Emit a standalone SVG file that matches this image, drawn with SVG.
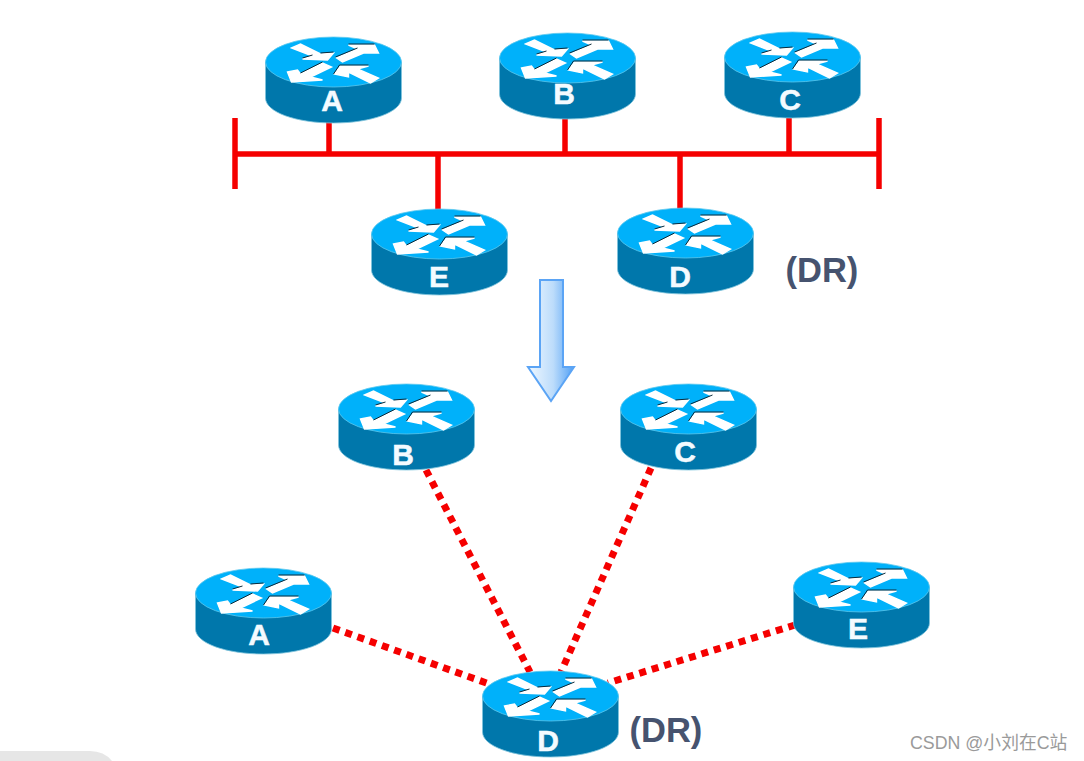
<svg xmlns="http://www.w3.org/2000/svg" width="1084" height="761" viewBox="0 0 1084 761">
<style>
.side{fill:#0077ab;stroke:#7fc4dc;stroke-width:.8}
.top{fill:#00b1fa;stroke:#5cc8ee;stroke-width:.8}
.ar{fill:#fff;stroke:#fff;stroke-width:1.4;stroke-linejoin:miter}
.sh{fill:none;stroke:#0c2a3a;stroke-width:1}
.lb{font:bold 30px "Liberation Sans",Arial,sans-serif;fill:#f4fbff;stroke:#f4fbff;stroke-width:.5;text-anchor:middle}
.dr{font:bold 34.5px "Liberation Sans",Arial,sans-serif;fill:#46536f}
.bus{stroke:#f50000;stroke-width:5.5;fill:none}
.dot{stroke:#f50000;stroke-width:7;stroke-dasharray:7 6;fill:none}
</style>
<defs>
<linearGradient id="ag" x1="0" x2="1" y1="0" y2="0"><stop offset="0" stop-color="#f0f8ff"/><stop offset=".55" stop-color="#bcdcfb"/><stop offset="1" stop-color="#4f9ff5"/></linearGradient>
<g id="r">
<path class="side" d="M-68 0V36C-68 50-38 61 0 61S68 50 68 36V0Z"/>
<ellipse class="top" cx="0" cy="0" rx="68" ry="25"/>
<path class="ar" d="M-42-14-33-18-13-8 0-9-6-2-31-3-21-6Z"/>
<path class="ar" d="M3-4 24-13 15-17 41-17 45-9 30-9 9 0Z"/>
<path class="ar" d="M-46 10-36 8-33 12-11 1-2 5-23 15-11 18-42 20Z"/>
<path class="ar" d="M1 12 7 4 35 4 24 7 45 16 37 21 15 10 15 15Z"/>
<path class="sh" d="M-13-9 0-10M-21-7-31-4M15-18 41-18M2-5 24-14M-33 11-11 0M0 12 6 3 35 3"/>
</g>
</defs>
<rect width="1084" height="761" fill="#fff"/>
<path d="M0 761V751H90Q104 751 112 761Z" fill="#e6e6e6"/>
<g id="connectors">
<path class="bus" d="M235 118V189M879 118V189M235 154H879M329 122V154M565 118V154M789 116V154M438 154V212M680 154V210"/>
<path class="dot" d="M426 470 530 672M651 468 561 672M333 628 492 685M795 625 608 683"/>
</g>
<g id="A1"><use href="#r" x="333.500" y="62"/><text class="lb" x="332" y="111">A</text></g>
<g id="B1"><use href="#r" x="567.500" y="58"/><text class="lb" x="564" y="104">B</text></g>
<g id="C1"><use href="#r" x="792.500" y="57"/><text class="lb" x="790" y="110">C</text></g>
<g id="E1"><use href="#r" x="439.500" y="234"/><text class="lb" x="439" y="287">E</text></g>
<g id="D1"><use href="#r" x="685.500" y="233"/><text class="lb" x="680" y="287">D</text></g>
<text class="dr" x="785.500" y="282">(DR)</text>
<path id="arrow" d="M540 280H563V367H574L551 401 528 367H540Z" fill="url(#ag)" stroke="#5ba4f5" stroke-width="2"/>
<g id="B2"><use href="#r" x="406.500" y="409"/><text class="lb" x="403" y="465">B</text></g>
<g id="C2"><use href="#r" x="688.500" y="409"/><text class="lb" x="685" y="462">C</text></g>
<g id="A2"><use href="#r" x="263.500" y="593"/><text class="lb" x="259" y="645">A</text></g>
<g id="E2"><use href="#r" x="861.500" y="587"/><text class="lb" x="858" y="639">E</text></g>
<g id="D2"><use href="#r" x="550.500" y="696"/><text class="lb" x="548" y="751">D</text></g>
<text class="dr" x="629.500" y="742">(DR)</text>
<text x="910" y="749" font-family="'Liberation Sans','Noto Sans CJK SC',sans-serif" font-size="17.8" fill="#9a9a9a">CSDN @小刘在C站</text>
</svg>
